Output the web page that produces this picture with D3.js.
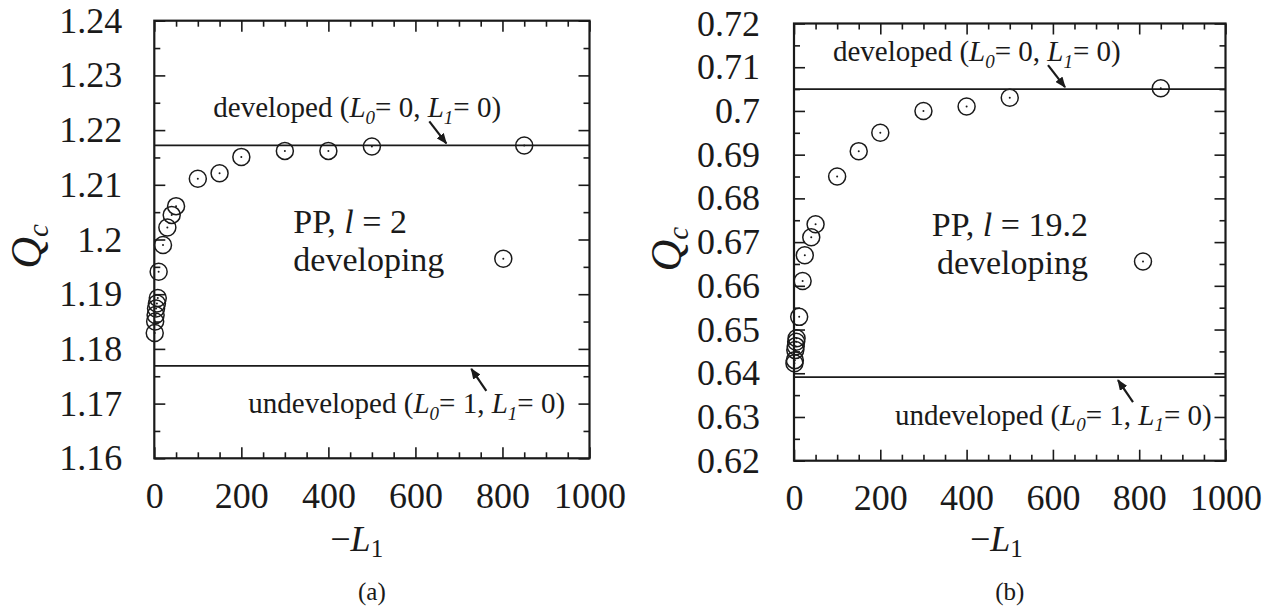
<!DOCTYPE html>
<html>
<head>
<meta charset="utf-8">
<script src="https://cdn.jsdelivr.net/npm/d3@7"></script>
<style>
  body { margin: 0; background: #fff; }
  svg { display: block; }
  text { fill: #1a1a1a; font-family: "Liberation Serif", "Times New Roman", "DejaVu Serif", serif; }
</style>
</head>
<body>
<svg id="chart" width="1267" height="615"></svg>
<script>
// ---- data ----
// panel (a): PP, l = 2
const negL1A = [1, 2, 3, 4, 6, 8, 10, 20, 30, 40, 50, 100, 150, 200, 300, 400, 500, 850];
const qcA = [1.1829, 1.1850, 1.1862, 1.1874, 1.1883, 1.1893, 1.1941, 1.1990, 1.2022, 1.2045,
             1.2061, 1.2111, 1.2121, 1.2151, 1.2162, 1.2162, 1.2170, 1.2172];
const developedA = 1.2172;
const undevelopedA = 1.1769;

// panel (b): PP, l = 19.2
const negL1B = [1, 2, 3, 4, 5, 6, 12, 20, 25, 40, 50, 100, 150, 200, 300, 400, 500, 850];
const qcB = [0.6423, 0.6430, 0.6453, 0.6462, 0.6472, 0.6480, 0.6529, 0.6611, 0.6670, 0.6711,
             0.6741, 0.6850, 0.6908, 0.6950, 0.7000, 0.7010, 0.7030, 0.7052];
const developedB = 0.7050;
const undevelopedB = 0.6391;

// ticks
const xTicks = [0, 200, 400, 600, 800, 1000];
const xTickLabels = ["0", "200", "400", "600", "800", "1000"];
const yTicksA = [1.16, 1.17, 1.18, 1.19, 1.20, 1.21, 1.22, 1.23, 1.24];
const yTickLabelsA = ["1.16", "1.17", "1.18", "1.19", "1.2", "1.21", "1.22", "1.23", "1.24"];
const yTicksB = [0.62, 0.63, 0.64, 0.65, 0.66, 0.67, 0.68, 0.69, 0.70, 0.71, 0.72];
const yTickLabelsB = ["0.62", "0.63", "0.64", "0.65", "0.66", "0.67", "0.68", "0.69", "0.7", "0.71", "0.72"];

const svg = d3.select("#chart");
const ink = "#1a1a1a";
const serif = '"Liberation Serif", "Times New Roman", "DejaVu Serif", serif';

// arrow head for the annotation pointers
svg.append("defs").append("marker")
    .attr("id", "head")
    .attr("viewBox", "0 0 10 8")
    .attr("refX", 9).attr("refY", 4)
    .attr("markerWidth", 5).attr("markerHeight", 4)
    .attr("orient", "auto")
  .append("path")
    .attr("d", "M0,0 L10,4 L0,8 Z")
    .attr("fill", ink);

// "developed (L0= 0, L1= 0)" style label with italic L and subscripts
function refLabel(g, x, y, word, l0) {
    const t = g.append("text")
        .attr("x", x).attr("y", y)
        .attr("font-size", 29);
    t.append("tspan").text(word + " (");
    t.append("tspan").attr("font-style", "italic").text("L");
    t.append("tspan").attr("font-style", "italic").attr("font-size", 19).attr("dy", 6.5).text("0");
    t.append("tspan").attr("dy", -6.5).text("= " + l0 + ", ");
    t.append("tspan").attr("font-style", "italic").text("L");
    t.append("tspan").attr("font-style", "italic").attr("font-size", 19).attr("dy", 6.5).text("1");
    t.append("tspan").attr("dy", -6.5).text("= 0)");
    return t;
}

function drawPanel(p) {
    const x = d3.scaleLinear().domain([0, 1000]).range([p.left, p.right]);
    const y = d3.scaleLinear().domain(p.yDomain).range([p.bottom, p.top]);
    const g = svg.append("g");

    const xMinor = d3.range(0, 1001, 50).filter(v => v % 200 !== 0);
    const yStep = p.yTicks[1] - p.yTicks[0];
    const yMinor = p.yTicks.slice(0, -1).map(v => v + yStep / 2);

    const axes = [
        { gen: d3.axisBottom, sc: x, major: xTicks, minor: xMinor, at: `translate(0,${p.bottom})`, labels: xTickLabels, pad: 24 },
        { gen: d3.axisTop, sc: x, major: xTicks, minor: xMinor, at: `translate(0,${p.top})` },
        { gen: d3.axisLeft, sc: y, major: p.yTicks, minor: yMinor, at: `translate(${p.left},0)`, labels: p.yLabels, pad: p.yPad },
        { gen: d3.axisRight, sc: y, major: p.yTicks, minor: yMinor, at: `translate(${p.right},0)` }
    ];

    axes.forEach(a => {
        const minor = g.append("g").attr("transform", a.at)
            .call(a.gen(a.sc).tickValues(a.minor).tickSizeInner(-6).tickSizeOuter(0).tickFormat(""));
        const major = g.append("g").attr("transform", a.at)
            .call(a.gen(a.sc).tickValues(a.major).tickSizeInner(-11).tickSizeOuter(0)
                .tickPadding(a.pad || 0)
                .tickFormat((d, i) => a.labels ? a.labels[i] : ""));
        [minor, major].forEach(s => {
            s.attr("font-family", null).attr("font-size", null);
            s.select(".domain").remove();
            s.selectAll("line").attr("stroke", ink).attr("stroke-width", 1.6);
        });
        major.selectAll("text")
            .attr("font-size", 36)
            .attr("fill", ink)
            .style("font-family", serif);
    });

    // frame
    g.append("rect")
        .attr("x", p.left).attr("y", p.top)
        .attr("width", p.right - p.left).attr("height", p.bottom - p.top)
        .attr("fill", "none").attr("stroke", ink).attr("stroke-width", 2.2);

    // reference lines
    [p.developed, p.undeveloped].forEach(v => {
        g.append("line")
            .attr("x1", p.left).attr("x2", p.right)
            .attr("y1", y(v)).attr("y2", y(v))
            .attr("stroke", ink).attr("stroke-width", 1.8);
    });

    // labels for reference lines + pointers
    const yd = y(p.developed), yu = y(p.undeveloped);
    refLabel(g, p.left + p.devDx, yd - 28, "developed", 0);
    g.append("line")
        .attr("x1", p.left + p.devArrow).attr("y1", yd - 24)
        .attr("x2", p.left + p.devArrow + 17).attr("y2", yd - 2)
        .attr("stroke", ink).attr("stroke-width", 2.2)
        .attr("marker-end", "url(#head)");

    refLabel(g, p.left + p.undevDx, yu + 47.5, "undeveloped", 1);
    g.append("line")
        .attr("x1", p.left + p.undevDx + 238).attr("y1", yu + 25)
        .attr("x2", p.left + p.undevDx + 223).attr("y2", yu + 3)
        .attr("stroke", ink).attr("stroke-width", 2.2)
        .attr("marker-end", "url(#head)");

    // data points: open circles with a centre dot
    const pts = g.append("g").selectAll("g")
        .data(p.xs.map((v, i) => [v, p.ys[i]]))
        .join("g")
        .attr("transform", d => `translate(${x(d[0])},${y(d[1])})`);
    pts.append("circle").attr("r", 8.5).attr("fill", "none").attr("stroke", ink).attr("stroke-width", 1.5);
    pts.append("circle").attr("r", 1).attr("fill", ink);

    // legend: "PP, l = ..." / "developing" with the symbol
    const pp = g.append("text")
        .attr("x", p.left + p.ppDx).attr("y", p.top + 212)
        .attr("font-size", 34)
        .attr("text-anchor", p.ppAnchor);
    pp.append("tspan").text("PP, ");
    pp.append("tspan").attr("font-style", "italic").text("l");
    pp.append("tspan").text(" = " + p.ell);
    g.append("text")
        .attr("x", p.left + p.ppDx).attr("y", p.top + 250.5)
        .attr("font-size", 34)
        .attr("text-anchor", p.ppAnchor)
        .text("developing");
    const lg = g.append("g").attr("transform", `translate(${p.left + 349},${p.top + 238})`);
    lg.append("circle").attr("r", 8.5).attr("fill", "none").attr("stroke", ink).attr("stroke-width", 1.5);
    lg.append("circle").attr("r", 1).attr("fill", ink);

    // axis titles
    const xl = g.append("text")
        .attr("x", p.left + 176).attr("y", 551)
        .attr("font-size", 36);
    xl.append("tspan").text("\u2212");
    xl.append("tspan").attr("font-style", "italic").text("L");
    xl.append("tspan").attr("font-size", 25).attr("dy", 6).text("1");

    const yl = g.append("text")
        .attr("transform", `translate(${p.left - 113},${p.top + 248}) rotate(-90)`)
        .attr("font-size", 44);
    yl.append("tspan").attr("font-style", "italic").text("Q");
    yl.append("tspan").attr("font-style", "italic").attr("font-size", 29).attr("dy", 7).text("c");

    g.append("text")
        .attr("x", (p.left + p.right) / 2).attr("y", 600)
        .attr("font-size", 25)
        .attr("text-anchor", "middle")
        .text(p.caption);
}

drawPanel({
    left: 154.3, right: 589.5, top: 20.7, bottom: 458.3,
    xs: negL1A, ys: qcA, yDomain: [1.16, 1.24], yTicks: yTicksA, yLabels: yTickLabelsA, yPad: 32,
    developed: developedA, undeveloped: undevelopedA,
    devDx: 59, devArrow: 275, undevDx: 94,
    ppDx: 139, ppAnchor: "start", ell: "2", caption: "(a)"
});

drawPanel({
    left: 794, right: 1225.5, top: 23.5, bottom: 460.7,
    xs: negL1B, ys: qcB, yDomain: [0.62, 0.72], yTicks: yTicksB, yLabels: yTickLabelsB, yPad: 34,
    developed: developedB, undeveloped: undevelopedB,
    devDx: 39, devArrow: 254, undevDx: 101,
    ppDx: 294, ppAnchor: "end", ell: "19.2", caption: "(b)"
});
</script>
</body>
</html>
